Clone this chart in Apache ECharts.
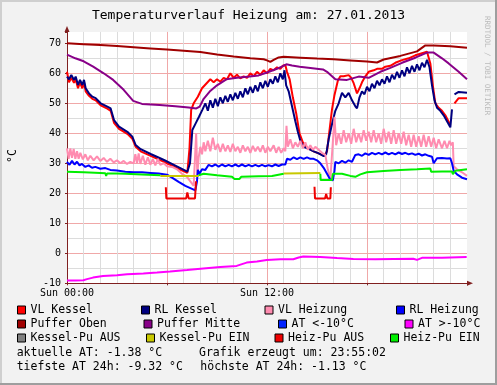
<!DOCTYPE html>
<html><head><meta charset="utf-8">
<script src="https://cdn.jsdelivr.net/npm/echarts@6/dist/echarts.min.js"></script>
<style>html,body{margin:0;padding:0;background:#f2f2f2}#c{width:497px;height:385px}</style>
</head><body><div id="c"></div><script>
const FONT = 'DejaVu Sans Mono';
const titleText = 'Temperaturverlauf Heizung am: 27.01.2013';
const yUnit = '°C';
const xTickValues = [0, 12];
const xTickLabels = ['Sun 00:00', 'Sun 12:00'];
const yTickValues = [-10, 0, 10, 20, 30, 40, 50, 60, 70];

const seriesNames = ['VL Kessel','RL Kessel','VL Heizung','RL Heizung','Puffer Oben','Puffer Mitte','AT <-10°C','AT >-10°C','Kessel-Pu AUS','Kessel-Pu EIN','Heiz-Pu AUS','Heiz-Pu EIN'];
const seriesColors = ['#ff0000','#000080','#ff8cb0','#0000ff','#a00000','#880088','#0022ff','#ff00ff','#808080','#c8c800','#ee0000','#00ee00'];

// time in hours, value in °C
const vlKessel = [[0,60.5],[0.12,57],[0.26,58.5],[0.42,56.8],[0.52,58],[0.66,55],[0.78,57],[0.92,55],[1.02,57],[1.12,54],[1.32,52.5],[1.52,51.5],[1.72,51],[2.02,49.3],[2.42,48.2],[2.62,47.5],[2.82,43.5],[3.12,41.5],[3.62,39.8],[3.92,38.2],[4.12,35.5],[4.42,34],[5.02,32.5],[5.82,30.5],[6.62,28.3],[7.22,26.8],[7.35,35],[7.45,47.8],[7.6,50],[7.85,52.2],[8.1,55],[8.35,56.5],[8.6,58],[8.8,57],[9.0,58],[9.2,57.2],[9.4,58.5],[9.6,58],[9.8,60],[10.0,58.5],[10.2,59.5],[10.4,58.3],[10.6,59],[10.8,58.5],[11.0,60],[11.2,59],[11.4,60.5],[11.6,59.5],[11.8,61],[12.0,60],[12.2,61.5],[12.4,61],[12.6,62],[12.8,61.5],[12.95,62.5],[13.1,62.8],[13.2,60.5],[13.36,58],[13.55,52],[13.75,46.7],[13.95,40],[14.15,37],[14.35,35.5],[14.8,34],[15.1,33.3],[15.45,32.5],[15.6,34],[15.75,41],[15.9,48],[16.05,52.8],[16.25,57.5],[16.4,59],[16.6,59],[16.9,59.4],[17.05,58.5],[17.2,56.7],[17.4,53.3],[17.55,55],[17.7,57],[17.9,59],[18.1,60.5],[18.4,61],[18.6,61.5],[18.9,61.5],[19.1,62.2],[19.4,62.5],[19.7,63.5],[20.1,64.4],[20.5,65],[20.9,66],[21.3,66.7],[21.6,67.2],[21.8,63.3],[21.95,56],[22.1,50],[22.3,48.5],[22.5,47.5],[22.7,46],[23.0,42.8],[23.05,'-'],[23.25,50],[23.5,51.7],[24,51.7]];
const rlKessel = [[0,58.9],[0.12,58],[0.26,59.4],[0.42,57.8],[0.52,58.9],[0.66,56.1],[0.78,57.8],[0.92,56.1],[1.02,57.8],[1.12,55],[1.32,53.3],[1.52,52.2],[1.72,51.7],[2.02,50],[2.42,48.9],[2.62,48.3],[2.82,44.4],[3.12,42.2],[3.62,40.5],[3.92,38.9],[4.12,36.1],[4.42,34.7],[5.02,33.1],[5.82,31.1],[6.62,28.9],[7.22,27.2],[7.38,30],[7.52,41.1],[7.72,43.3],[7.92,45.5],[8.12,47.8],[8.3,50],[8.45,47.5],[8.6,51],[8.75,48.5],[8.9,51.5],[9.05,49],[9.2,52],[9.35,50],[9.5,52.5],[9.65,50.5],[9.8,53],[9.95,51],[10.1,53.5],[10.25,51.5],[10.4,54],[10.55,52],[10.7,55],[10.85,53],[11,55.5],[11.15,53.5],[11.3,56],[11.45,54],[11.6,57],[11.75,55],[11.9,57.5],[12.05,55.5],[12.2,58],[12.35,56.5],[12.5,59],[12.65,57],[12.8,60],[12.95,58],[13.05,61],[13.15,56],[13.3,54],[13.5,49],[13.7,44],[13.85,40.5],[14.0,37.5],[14.2,35.5],[14.5,34.8],[14.8,34],[15.1,33.3],[15.4,32.4],[15.55,33],[15.7,38],[15.9,43],[16.1,47.5],[16.3,50],[16.5,53.5],[16.7,52],[16.9,53.5],[17.1,51],[17.3,49],[17.4,48.3],[17.55,52],[17.7,54],[17.85,53],[18.0,55.5],[18.15,54],[18.3,56.5],[18.45,55],[18.6,57.5],[18.75,56],[18.9,58],[19.05,56.5],[19.2,59],[19.35,57],[19.5,59.5],[19.65,58],[19.8,60.5],[19.95,58.5],[20.1,61],[20.25,59],[20.4,62],[20.55,60],[20.7,62.5],[20.85,60.5],[21.0,63],[21.15,61],[21.3,63.5],[21.45,62],[21.6,64.5],[21.75,62],[21.9,56],[22.05,51],[22.2,48.5],[22.4,47.5],[22.6,46],[22.8,44],[23.0,42],[23.1,48],[23.17,'-'],[23.25,53],[23.5,53.8],[24,53.5]];
const vlHeizung = [[0,35],[0.1,31.5],[0.2,35],[0.3,31.8],[0.4,34.8],[0.5,31.5],[0.6,34],[0.7,31.5],[0.8,33.5],[0.95,31.3],[1.1,33],[1.25,31],[1.4,32.5],[1.6,31],[1.8,32.3],[2.0,30.8],[2.2,31.8],[2.4,30.5],[2.6,31.5],[2.8,30.3],[3.0,31],[3.2,30],[3.4,30.8],[3.6,29.8],[3.8,30.5],[4.0,30],[4.1,33],[4.2,30],[4.3,33.3],[4.4,29.8],[4.55,32.5],[4.7,29.5],[4.85,32],[5.0,29.5],[5.15,31.5],[5.3,29.3],[5.45,31.5],[5.6,29.5],[5.8,30],[6.0,29],[6.3,28.8],[6.6,28],[6.9,26.5],[7.2,25.5],[7.4,24],[7.6,22.5],[7.7,22],[7.75,40],[7.82,26],[7.9,32],[8.0,35.5],[8.1,33],[8.2,37],[8.3,34],[8.45,37.5],[8.6,34],[8.75,38.5],[8.9,34.5],[9.05,36.5],[9.2,33.8],[9.35,36.5],[9.5,34],[9.65,36],[9.8,33.8],[9.95,36.5],[10.1,34],[10.25,35.5],[10.4,33.5],[10.55,36],[10.7,34],[10.85,35.5],[11.0,33.5],[11.15,35.8],[11.3,34],[11.45,35.5],[11.6,33.8],[11.75,36],[11.9,33.5],[12.05,35.5],[12.2,34],[12.4,36],[12.55,33.5],[12.7,35.5],[12.85,33.5],[13.0,35],[13.1,34],[13.17,42.5],[13.25,35.5],[13.4,38],[13.55,35],[13.7,37],[13.85,35.5],[14.0,37.5],[14.15,35],[14.3,37],[14.45,34.5],[14.6,36],[14.75,34.5],[14.9,35.5],[15.1,34.5],[15.3,33.5],[15.5,32.8],[15.65,28],[15.8,24.5],[15.9,25],[16.05,45.5],[16.15,36],[16.3,40],[16.45,36.5],[16.6,41],[16.75,37],[16.9,40],[17.05,36.5],[17.2,41.5],[17.35,37],[17.5,40],[17.65,37],[17.8,41],[17.95,37.5],[18.1,40.5],[18.25,37],[18.4,41],[18.55,37],[18.7,40],[18.85,36.5],[19.0,41.5],[19.15,37],[19.3,40.5],[19.45,36.5],[19.6,41],[19.75,36.5],[19.9,40],[20.05,36.5],[20.2,40.5],[20.35,36],[20.5,39.5],[20.65,35.5],[20.8,39.5],[20.95,35.5],[21.1,39],[21.25,35.5],[21.4,39.5],[21.55,35.5],[21.7,39],[21.85,35.5],[22.0,38.5],[22.15,35],[22.3,38],[22.5,35],[22.65,37.5],[22.8,35],[22.95,37.5],[23.05,36],[23.15,37],[23.2,29],[23.4,28],[23.7,27],[24,25.8]];
const rlHeizung = [[0,30.5],[0.15,29.5],[0.3,30.8],[0.45,29.6],[0.6,30.5],[0.75,29.3],[0.9,29.8],[1.1,28.8],[1.3,29.3],[1.5,28.5],[1.7,28.8],[2.0,28.2],[2.3,28.4],[2.6,27.8],[3.0,27.6],[3.5,27.2],[4.0,27.0],[4.5,27.0],[5.0,26.8],[5.5,26.6],[6.0,26.2],[6.3,25.2],[6.7,23.8],[7.1,22.5],[7.5,21.5],[7.7,21.0],[7.8,24],[7.85,27.8],[7.95,26.5],[8.1,28],[8.3,27.8],[8.5,29.5],[8.7,29],[8.9,29.6],[9.1,28.9],[9.3,29.6],[9.5,29],[9.7,29.5],[9.9,29],[10.1,29.6],[10.3,29],[10.5,29.6],[10.7,29],[10.9,29.5],[11.1,29],[11.3,29.5],[11.5,29],[11.7,29.5],[11.9,29],[12.1,29.4],[12.3,29],[12.5,29.6],[12.7,29.1],[12.9,29.6],[13.1,29.6],[13.2,31.5],[13.4,31.2],[13.6,32],[13.8,31.4],[14.0,32],[14.2,31.5],[14.4,32],[14.6,31.5],[14.8,31.5],[15.0,31],[15.2,30],[15.4,28.5],[15.6,26.5],[15.8,24.5],[15.95,24.3],[16.05,27.5],[16.1,30.5],[16.3,30],[16.5,30.8],[16.7,30.2],[16.9,31],[17.1,30.5],[17.3,32.8],[17.5,33],[17.7,32.5],[17.9,33.3],[18.1,32.8],[18.3,33.5],[18.5,33],[18.7,33.5],[18.9,33],[19.1,33.6],[19.3,33],[19.5,33.5],[19.7,33],[19.9,33.6],[20.1,33.1],[20.3,33.5],[20.5,33],[20.7,33.3],[20.9,32.8],[21.1,33.2],[21.3,32.6],[21.5,33],[21.7,32.5],[21.9,32.2],[22.0,30],[22.1,30.2],[22.2,31.7],[22.5,31.8],[22.8,31.6],[23.0,31.7],[23.1,30],[23.2,27.5],[23.4,26.3],[23.7,25.2],[24,24.7]];
const pufferOben = [[0,70],[1,69.7],[2,69.4],[3,69.1],[4,68.7],[5,68.3],[6,67.9],[7,67.5],[8,67.1],[9,66.3],[10,65.6],[11,65.0],[11.8,64.7],[12.0,64.3],[12.2,63.8],[12.4,64.5],[12.7,65.3],[13,65.5],[14,65.2],[15,64.9],[16,64.7],[17,64.3],[18,63.9],[18.6,63.6],[19,64.6],[20,65.8],[21,67.3],[21.5,69.3],[22,69.3],[23,69.0],[24,68.5]];
const pufferMitte = [[0,66.2],[0.5,65],[1,64],[1.57,62.2],[2.2,60],[2.77,57.8],[3.4,54.5],[3.97,50.8],[4.5,49.8],[5.56,49.4],[6.5,49],[7.3,48.6],[7.76,48.3],[7.96,48.9],[8.2,51.5],[8.56,53.9],[9.0,56],[9.56,58],[10.2,58.5],[10.96,58.9],[11.5,59.3],[11.96,60.2],[12.6,61.5],[13.16,63],[13.5,62.6],[13.96,62.2],[14.6,61.8],[15.36,61.3],[15.6,60.5],[16.1,58],[16.8,57.8],[17.5,58.9],[18.1,58.5],[18.8,60.5],[19.4,61.8],[20.1,63.5],[20.9,65.2],[21.6,66.9],[22.0,66.9],[22.5,65],[22.9,63.3],[23.5,60.5],[24,58]];
const atBelow = [];
const atAbove = [[0,-9.1],[0.5,-9.1],[0.98,-9.0],[1.2,-8.6],[1.56,-8.1],[2.16,-7.6],[3,-7.3],[3.6,-7.0],[4.58,-6.7],[5.4,-6.4],[6.18,-6.1],[7.2,-5.6],[8.18,-5.1],[9.2,-4.6],[10.18,-4.2],[10.5,-3.6],[10.78,-3.1],[11.4,-2.7],[11.98,-2.2],[12.8,-2.0],[13.58,-2.0],[13.9,-1.4],[14.18,-1.1],[15.2,-1.2],[16.2,-1.6],[17.18,-1.9],[18.5,-2.0],[19.6,-1.9],[20.78,-1.8],[21.0,-2.2],[21.3,-1.5],[22.5,-1.5],[23.98,-1.2]];
const kesselPuAus = [];
const kesselPuEin = [[5.6,25.8],[7.9,25.8],[7.95,'-'],[13.0,26.6],[15.2,26.8]];
const heizPuAus = [[5.93,22],[5.96,18.3],[7.15,18.3],[7.22,20.3],[7.3,18.3],[7.68,18.3],[7.74,24],[7.8,'-'],[14.85,22.2],[14.88,18.3],[15.48,18.3],[15.55,19.8],[15.62,18.3],[15.8,18.3],[15.83,22]];
const heizPuEin = [[0,27.2],[1,27],[2,26.8],[2.3,26.7],[2.35,25.8],[2.4,26.6],[3,26.6],[3.5,26.5],[4.5,26.3],[5.6,26],[5.65,'-'],[7.9,26],[8.2,26.5],[9,26],[9.9,25.5],[10.05,24.8],[10.35,24.8],[10.45,25.5],[11.5,25.7],[12.3,25.8],[13.0,26.5],[13.05,'-'],[15.2,26.5],[15.22,24.4],[15.9,24.4],[15.95,26.5],[16.5,26.5],[17.0,25.8],[17.3,25.5],[17.6,26.3],[18,27],[19,27.4],[20,27.8],[21,28],[21.8,28.3],[21.85,27.2],[22.5,27.3],[23.1,27.3],[23.15,26.4],[23.3,27.5],[24,28]];

const seriesData = [vlKessel, rlKessel, vlHeizung, rlHeizung, pufferOben, pufferMitte, atBelow, atAbove, kesselPuAus, kesselPuEin, heizPuAus, heizPuEin];

const infoTexts = ['aktuelle AT: -1.38 °C', 'Grafik erzeugt um: 23:55:02', 'tiefste AT 24h: -9.32 °C', 'höchste AT 24h: -1.13 °C'];
const creditText = 'RRDTOOL / TOBI OETIKER';

// layout (positions only)
const legendPos = [[17,311],[141,311],[264.5,311],[396,311],[17,325],[143.5,325],[278,325],[404.5,325],[17,339],[146,339],[274.5,339],[390,339]];
const infoPos = [[16.7,353.3],[199,353.3],[16.7,367.3],[200.3,367.3]];

const AXIS = '#802020';
const chart = echarts.init(document.getElementById('c'), null, {renderer: 'canvas'});
const option = {
  animation: false,
  backgroundColor: '#f2f2f2',
  title: {text: titleText, left: 'center', top: 9, padding: 0,
    textStyle: {fontFamily: FONT, fontSize: 13, fontWeight: 'normal', color: '#000'}},
  grid: {left: 67, top: 31.9, width: 400, height: 251.4, show: true, backgroundColor: '#ffffff', borderWidth: 0},
  xAxis: {type: 'value', min: 0, max: 24, interval: 6,
    axisLine: {show: true, onZero: false, lineStyle: {color: AXIS, width: 1}, symbol: ['none','triangle'], symbolSize: [5,6], symbolOffset: [0,3]},
    axisTick: {show: true, length: 2, lineStyle: {color: AXIS}},
    axisLabel: {formatter: v => { const i = xTickValues.indexOf(v); return i >= 0 ? xTickLabels[i] : ''; },
      fontFamily: FONT, fontSize: 10, color: '#000', margin: 5},
    splitLine: {show: true, showMaxLine: false, lineStyle: {color: '#f0a8a8', width: 1}},
    minorTick: {show: false, splitNumber: 6},
    minorSplitLine: {show: true, lineStyle: {color: '#dcdcdc', width: 1}}
  },
  yAxis: [
    {type: 'value', position: 'left', min: -10, max: 73.8, interval: 5,
      axisLine: {show: false}, axisTick: {show: false}, axisLabel: {show: false},
      splitLine: {show: true, showMaxLine: false, lineStyle: {color: '#dcdcdc', width: 1}}},
    {type: 'value', position: 'left', min: -10, max: 73.8, interval: 10,
      axisLine: {show: true, onZero: false, lineStyle: {color: AXIS, width: 1}, symbol: ['none','triangle'], symbolSize: [5,6], symbolOffset: [0,3]},
      axisTick: {show: true, length: 2, lineStyle: {color: AXIS}},
      axisLabel: {formatter: v => yTickValues.indexOf(v) >= 0 ? String(v) : '', fontFamily: FONT, fontSize: 10, color: '#000', margin: 6},
      splitLine: {show: true, showMaxLine: false, lineStyle: {color: '#f0a8a8', width: 1}}}
  ],
  legend: seriesNames.map((n, i) => ({
    data: [n], left: legendPos[i][0], top: legendPos[i][1] - 7, icon: 'rect',
    itemWidth: 8, itemHeight: 8, itemGap: 0, padding: 0, selectedMode: false,
    textStyle: {fontFamily: FONT, fontSize: 11.5, color: '#000'},
    itemStyle: {borderColor: '#000', borderWidth: 1}
  })),
  series: seriesNames.map((n, i) => ({
    name: n, type: 'line', xAxisIndex: 0, yAxisIndex: 1, data: seriesData[i],
    showSymbol: false, symbol: 'none', connectNulls: false, silent: true,
    lineStyle: {color: seriesColors[i], width: 2}, itemStyle: {color: seriesColors[i]}
  })),
  graphic: [
    {type: 'rect', shape: {x: 0, y: 0, width: 497, height: 2}, style: {fill: '#cfcfcf'}, silent: true},
    {type: 'rect', shape: {x: 0, y: 0, width: 2, height: 385}, style: {fill: '#cfcfcf'}, silent: true},
    {type: 'rect', shape: {x: 495, y: 0, width: 2, height: 385}, style: {fill: '#9e9e9e'}, silent: true},
    {type: 'rect', shape: {x: 0, y: 383, width: 497, height: 2}, style: {fill: '#9e9e9e'}, silent: true},
    {type: 'text', x: 13, y: 156, rotation: Math.PI / 2, silent: true,
      style: {text: yUnit, fontFamily: FONT, fontSize: 11.5, fill: '#000', align: 'center', verticalAlign: 'middle'}},
    {type: 'text', x: 487, y: 16, rotation: -Math.PI / 2, silent: true,
      style: {text: creditText, fontFamily: FONT, fontSize: 7.5, fill: '#bbbbbb', align: 'left', verticalAlign: 'middle'}},
    ...infoTexts.map((t, i) => ({type: 'text', x: infoPos[i][0], y: infoPos[i][1], silent: true,
      style: {text: t, fontFamily: FONT, fontSize: 11.5, fill: '#000', align: 'left', verticalAlign: 'middle'}}))
  ]
};
chart.setOption(option);
</script></body></html>
